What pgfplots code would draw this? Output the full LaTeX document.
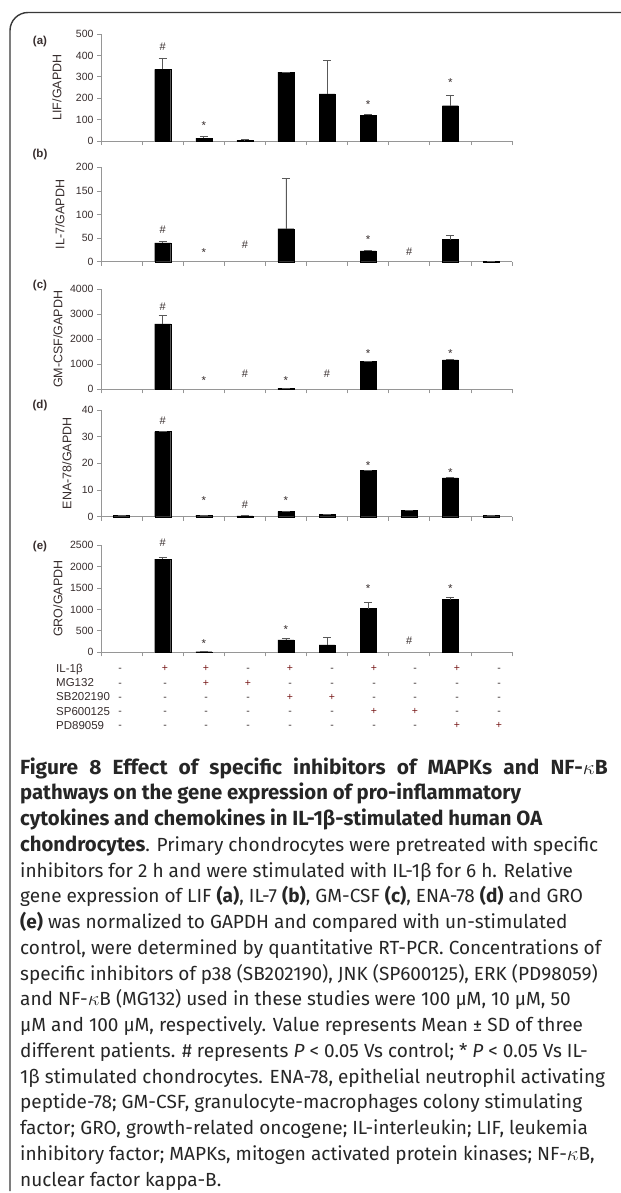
\documentclass[border=0pt]{standalone}
\usepackage{pgfplots}
\pgfplotsset{compat=1.18}
\usepackage{graphicx}
\usepackage{fontspec}
\setmainfont{Liberation Sans}
\newfontfamily\capfont{Fira Sans}
\definecolor{txt}{RGB}{55,45,45}
\definecolor{plusc}{RGB}{120,25,25}
\definecolor{axc}{RGB}{150,150,150}
\pgfplotsset{
  mypanel/.style={
    scale only axis, width=411bp, xmin=-0.5, xmax=9.5, ymin=0,
    anchor=south west,
    axis lines*=left, axis line style={axc, line width=0.7bp},
    xtick={-0.5,0.5,...,9.5}, xticklabels={},
    tick align=outside, major tick length=4bp,
    every tick/.style={axc, line width=0.7bp},
    ybar, bar width=16bp,
    /pgf/number format/assume math mode=true,
    /pgf/number format/1000 sep={},
    yticklabel style={font=\fontsize{10.5bp}{12bp}\selectfont, text=txt},
    ylabel style={font=\fontsize{12.5bp}{13bp}\selectfont, text=txt, anchor=center},
    clip=false,
    error bars/y dir=plus, error bars/y explicit,
    error bars/error bar style={gray!70!black, line width=0.8bp},
    error bars/error mark options={rotate=90, mark size=4bp, gray!70!black, line width=0.8bp},
  },
  mybars/.style={fill=black, draw=black, line width=0.3bp},
  ylx/.style={ylabel style={at={(axis description cs:#1,0.5)}}},
}
\tikzset{
  myst/.style={font=\fontsize{11.5bp}{12bp}\selectfont, text=txt, inner sep=0pt, anchor=base, yshift=-6.6bp},
  myhs/.style={font=\fontsize{11bp}{12bp}\selectfont, text=txt, inner sep=0pt, anchor=base, yshift=-3.8bp},
  myplab/.style={font=\bfseries\fontsize{11.5bp}{12bp}\selectfont, text=txt, inner sep=0pt},
  mytab/.style={font=\fontsize{11.5bp}{12bp}\selectfont, text=txt, inner sep=0pt, anchor=base},
  mysign/.style={font=\fontsize{10.5bp}{12bp}\selectfont, text=txt, inner sep=0pt, anchor=base},
  mycap/.style={font=\capfont\fontsize{19bp}{22bp}\selectfont, text=black!85, inner sep=0pt, anchor=base west},
}
\newcommand{\ST}[2]{\node[myst] at (axis cs:#1,#2) {*};}
\newcommand{\HS}[2]{\node[myhs] at (axis cs:#1,#2) {\#};}
\newcommand{\BL}[1]{\scalebox{0.99}[1]{\fontsize{20.5bp}{22bp}\selectfont\bfseries #1}}
\begin{document}
\begin{tikzpicture}
\path[use as bounding box] (0,0) rectangle (621bp,-1193bp);
\draw[line width=1.4bp, gray!45!black, rounded corners=18bp] (621bp,-12.5bp) -- (10bp,-12.5bp) -- (10bp,-1191bp);

% (a)
\begin{axis}[mypanel, ylx=-0.107, at={(101bp,-141bp)}, height=107bp, ymax=500, ytick={0,100,...,500}, ylabel={LIF/GAPDH}]
\addplot[mybars] coordinates {(1,335) +- (0,53) (2,13) +- (0,7) (3,3) +- (0,3) (4,322) +- (0,0) (5,220) +- (0,155) (6,120) +- (0,4) (8,165) +- (0,50)};
\HS{1}{439} \ST{2}{84} \ST{6}{182} \ST{8}{285}
\end{axis}
% (b)
\begin{axis}[mypanel, ylx=-0.100, at={(101bp,-261.7bp)}, height=94.4bp, ymax=200, ytick={0,50,...,200}, ylabel={IL-7/GAPDH}]
\addplot[mybars] coordinates {(1,40) +- (0,3.5) (4,70) +- (0,107) (6,23) +- (0,0) (8,47) +- (0,9) (9,1) +- (0,0.5)};
\HS{1}{67} \ST{2}{25} \HS{3}{35} \ST{6}{52} \HS{7}{21}
\end{axis}
% (c)
\begin{axis}[mypanel, ylx=-0.105, at={(101bp,-389.3bp)}, height=100bp, ymax=4000, ytick={0,1000,...,4000}, ylabel={GM-CSF/GAPDH}]
\addplot[mybars] coordinates {(1,2620) +- (0,350) (4,35) +- (0,0) (6,1107) +- (0,0) (8,1173) +- (0,40)};
\HS{1}{3300} \ST{2}{440} \HS{3}{640} \ST{4}{440} \HS{5}{640} \ST{6}{1530} \ST{8}{1530}
\end{axis}
% (d)
\begin{axis}[mypanel, ylx=-0.083, at={(101bp,-516.7bp)}, height=106.7bp, ymax=40, ytick={0,10,...,40}, ylabel={ENA-78/GAPDH}]
\addplot[mybars] coordinates {(0,0.6) +- (0,0) (1,31.9) +- (0,0) (2,0.6) +- (0,0) (3,0.35) +- (0,0) (4,2.0) +- (0,0) (5,1.0) +- (0,0) (6,17.3) +- (0,0) (7,2.3) +- (0,0) (8,14.6) +- (0,0) (9,0.6) +- (0,0)};
\HS{1}{36} \ST{2}{6.9} \HS{3}{4.4} \ST{4}{6.9} \ST{6}{20.3} \ST{8}{17.5}
\end{axis}
% (e)
\begin{axis}[mypanel, ylx=-0.105, at={(101bp,-652.3bp)}, height=107.3bp, ymax=2500, ytick={0,500,...,2500}, ylabel={GRO/GAPDH}]
\addplot[mybars] coordinates {(1,2170) +- (0,40) (2,15) +- (0,0) (4,290) +- (0,40) (5,175) +- (0,165) (6,1020) +- (0,140) (8,1230) +- (0,60)};
\HS{1}{2550} \ST{2}{270} \ST{4}{590} \ST{6}{1540} \HS{7}{270} \ST{8}{1550}
\end{axis}

\node[myplab] at (40bp,-42bp) {(a)};
\node[myplab] at (40bp,-155bp) {(b)};
\node[myplab] at (40bp,-286bp) {(c)};
\node[myplab] at (40bp,-406bp) {(d)};
\node[myplab] at (40bp,-547bp) {(e)};

% treatment table
\node[mytab, anchor=base west] at (56bp,-672.2bp) {IL-1β};
\node[mytab, anchor=base west] at (56bp,-686.5bp) {MG132};
\node[mytab, anchor=base west] at (56bp,-700.8bp) {SB202190};
\node[mytab, anchor=base west] at (56bp,-715.1bp) {SP600125};
\node[mytab, anchor=base west] at (56bp,-729.4bp) {PD89059};
\def\cols{120,165,206,248,290,332,374,415,457,499}
\newcommand{\trow}[2]{%
  \foreach \s [count=\c] in {#2}{%
    \pgfmathsetmacro{\xx}{{\cols}[\c-1]}%
    \pgfmathsetmacro{\yy}{-(671.7+14.3*(#1-1))}%
    \ifnum\s=1
      \node[mysign, text=plusc] at (\xx bp,\yy bp) {+};
    \else
      \node[mysign] at (\xx bp,\yy bp) {-};
    \fi
  }}
\trow{1}{0,1,1,0,1,0,1,0,1,0}
\trow{2}{0,0,1,1,0,0,0,0,0,0}
\trow{3}{0,0,0,0,1,1,0,0,0,0}
\trow{4}{0,0,0,0,0,0,1,1,0,0}
\trow{5}{0,0,0,0,0,0,0,0,1,1}

% caption
\newcommand{\CL}[2]{\pgfmathsetmacro{\yy}{-(774+25.75*(#1-1))}\node[mycap] at (20bp,\yy bp) {#2};}
\CL{1}{\scalebox{1.02}[1]{\makebox[576bp][s]{\fontsize{20.5bp}{22bp}\selectfont\bfseries Figure 8 Effect of specific inhibitors of MAPKs and NF-$\kappa$B}}}
\CL{2}{\BL{pathways on the gene expression of pro-inflammatory}}
\CL{3}{\BL{cytokines and chemokines in IL-1β-stimulated human OA}}
\CL{4}{\BL{chondrocytes}. Primary chondrocytes were pretreated with specific}
\CL{5}{inhibitors for 2 h and were stimulated with IL-1β for 6 h. Relative}
\CL{6}{gene expression of LIF \textbf{(a)}, IL-7 \textbf{(b)}, GM-CSF \textbf{(c)}, ENA-78 \textbf{(d)} and GRO}
\CL{7}{\textbf{(e)} was normalized to GAPDH and compared with un-stimulated}
\CL{8}{control, were determined by quantitative RT-PCR. Concentrations of}
\CL{9}{specific inhibitors of p38 (SB202190), JNK (SP600125), ERK (PD98059)}
\CL{10}{and NF-$\kappa$B (MG132) used in these studies were 100 µM, 10 µM, 50}
\CL{11}{µM and 100 µM, respectively. Value represents Mean ± SD of three}
\CL{12}{different patients. \# represents \textit{P} < 0.05 Vs control; * \textit{P} < 0.05 Vs IL-}
\CL{13}{1β stimulated chondrocytes. ENA-78, epithelial neutrophil activating}
\CL{14}{peptide-78; GM-CSF, granulocyte-macrophages colony stimulating}
\CL{15}{factor; GRO, growth-related oncogene; IL-interleukin; LIF, leukemia}
\CL{16}{inhibitory factor; MAPKs, mitogen activated protein kinases; NF-$\kappa$B,}
\CL{17}{nuclear factor kappa-B.}
\end{tikzpicture}
\end{document}
